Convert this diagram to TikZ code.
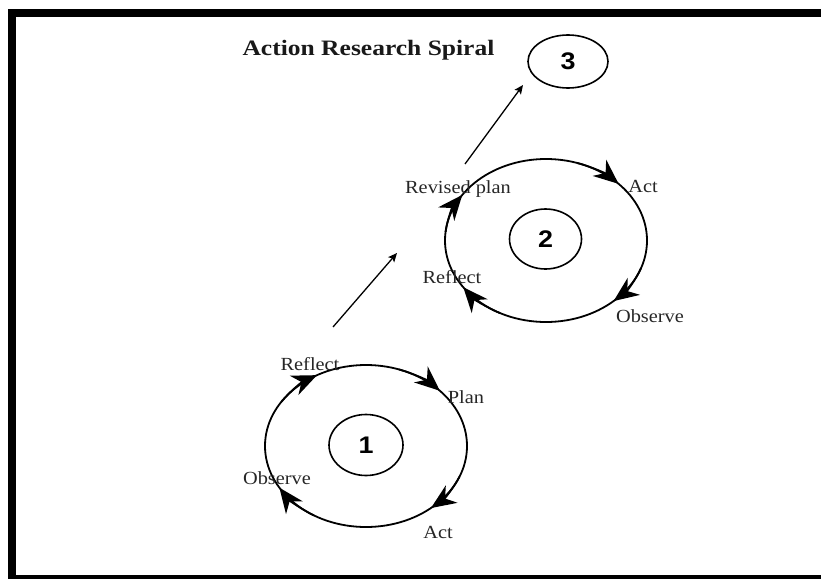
\documentclass[tikz,border=0pt]{standalone}
\usepackage{fontspec}
\usepackage{graphicx}
\setmainfont{Liberation Serif}
\newfontfamily\numfont{Liberation Sans}
\usetikzlibrary{arrows.meta,shapes.geometric}

\begin{document}
\begin{tikzpicture}[x=1pt,y=1pt,
  lbl/.style={font=\fontsize{18.5}{18.5}\selectfont, anchor=base, inner sep=0pt, text=black!85},
  ring/.style={draw, ellipse, line width=1.8pt, inner sep=0pt},
  hub/.style={draw, ellipse, line width=1.6pt, inner sep=0pt,
    font=\numfont\bfseries\fontsize{24}{24}\selectfont},
  turn/.style={line width=1.8pt, -{Stealth[length=25pt, width=21pt, inset=8pt]}},
  link/.style={line width=1.3pt, -{Stealth[length=9pt, width=8pt, inset=2pt]}}
]
\useasboundingbox (0,0) rectangle (821,-578);
\clip (0,0) rectangle (821,-578);

% outer frame
\draw[line width=8pt] (12,-13) rectangle (860,-579);

% title
\node[font=\bfseries\fontsize{22}{22}\selectfont, anchor=base, inner sep=0pt, text=black!90] (title)
  at (368.5,-55.5) {\scalebox{1.16}[1]{Action Research Spiral}};

% cycle 1
\node[ring, minimum width=202pt, minimum height=162pt] (o1) at (366,-446) {};
\node[hub, minimum width=74pt, minimum height=61pt] (i1) at (366,-445) {\scalebox{1.12}[1]{1}};
\foreach \a in {119,43,-50,-149}
  \draw[turn] (o1.center) ++({\a+28}:101 and 81) arc[start angle=\a+28, end angle=\a, x radius=101, y radius=81];
\node[lbl] (r1) at (310,-370) {\scalebox{1.1}[1]{Reflect}};
\node[lbl] (p1) at (466,-403) {\scalebox{1.1}[1]{Plan}};
\node[lbl] (ob1) at (277,-484) {\scalebox{1.1}[1]{Observe}};
\node[lbl] (ac1) at (438,-538) {\scalebox{1.1}[1]{Act}};

% cycle 2
\node[ring, minimum width=202pt, minimum height=163pt] (o2) at (546,-240.5) {};
\node[hub, minimum width=72pt, minimum height=60pt] (i2) at (545.5,-239) {\scalebox{1.12}[1]{2}};
\foreach \a in {146,44,-48,-145}
  \draw[turn] (o2.center) ++({\a+28}:101 and 81.5) arc[start angle=\a+28, end angle=\a, x radius=101, y radius=81.5];
\node[lbl] (rp2) at (458,-193) {\scalebox{1.1}[1]{Revised plan}};
\node[lbl] (ac2) at (643,-192) {\scalebox{1.1}[1]{Act}};
\node[lbl] (r2) at (452,-283) {\scalebox{1.1}[1]{Reflect}};
\node[lbl] (ob2) at (650,-322) {\scalebox{1.1}[1]{Observe}};

% cycle 3
\node[hub, minimum width=80pt, minimum height=53pt] (o3) at (568,-61.5) {\scalebox{1.12}[1]{3}};

% progress arrows between cycles
\coordinate (s1) at (333,-327);
\coordinate (e1) at (397,-253);
\coordinate (s2) at (465,-164);
\coordinate (e2) at (523,-85);
\draw[link] (s1) -- (e1);
\draw[link] (s2) -- (e2);
\end{tikzpicture}
\end{document}
